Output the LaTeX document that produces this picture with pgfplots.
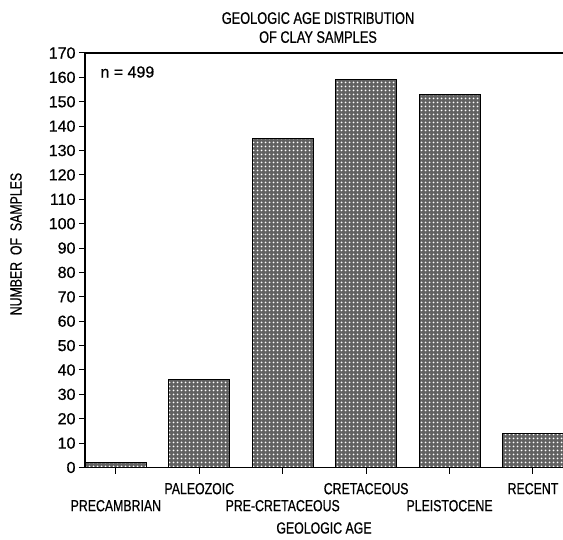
\documentclass[border=0pt]{standalone}
\usepackage{fontspec}
\setmainfont{Liberation Sans}[FakeBold=0.6]
\newfontfamily\narrow{Liberation Sans}[FakeStretch=0.77, FakeBold=0.6]
\usepackage{pgfplots}
\pgfplotsset{compat=1.18}
\usetikzlibrary{patterns}

\newcommand{\txt}{\fontsize{16bp}{19bp}\selectfont}
\newcommand{\ttl}{\fontsize{16.6bp}{19bp}\selectfont}

% white dots on a dark fill, as in the printed bars
\pgfdeclarepatternformonly{bardots}{\pgfqpoint{0bp}{0bp}}{\pgfqpoint{4bp}{4bp}}{\pgfqpoint{4bp}{4bp}}{
    \pgfpathcircle{\pgfqpoint{2bp}{2bp}}{1.2bp}
    \pgfusepath{fill}}

\begin{document}
\begin{tikzpicture}
\begin{axis}[
    name=ax,
    scale only axis,
    width=478bp, height=414.5bp,
    xmin=-0.37, xmax=5.36,
    ymin=0, ymax=170,
    axis x line*=bottom, axis y line*=left,
    axis line style={-, line width=1.2bp},
    ytick={0,10,...,170},
    xtick={1,3,5},
    xticklabels={PALEOZOIC,CRETACEOUS,RECENT},
    extra x ticks={0,2,4},
    extra x tick labels={PRECAMBRIAN,PRE-CRETACEOUS,PLEISTOCENE},
    extra x tick style={xticklabel style={yshift=-17bp}},
    tick align=outside,
    major tick length=6bp,
    tick style={black, line width=1bp},
    xticklabel style={font=\narrow\txt, yshift=-6bp},
    yticklabel style={font=\txt},
    /pgf/number format/assume math mode=true,
    every axis title/.style={at={(0.5,1)}, anchor=south, xshift=-6bp, yshift=6.5bp,
        font=\narrow\ttl, align=center},
    title={GEOLOGIC AGE DISTRIBUTION\\OF CLAY SAMPLES},
    every axis x label/.style={at={(rel axis cs:0.5,0)}, anchor=center, yshift=-60.5bp,
        font=\narrow\txt},
    xlabel={GEOLOGIC AGE},
    every axis y label/.style={at={(rel axis cs:0,0.539)}, xshift=-69bp, rotate=90,
        anchor=center, font=\narrow\txt},
    ylabel={NUMBER \ OF \ SAMPLES},
    ybar,
    bar width=0.73,
]
\addplot[draw=black, line width=0.9bp, fill=black!62,
    postaction={pattern=bardots, pattern color=white}]
    coordinates {(0,2) (1,36) (2,135) (3,159) (4,153) (5,14)};
\node[anchor=west, font=\txt] at (rel axis cs:0.025,1) [yshift=-19bp] {n = 499};
\end{axis}
\draw[line width=1.2bp] (ax.north west) -- (ax.north east);
\pgfresetboundingbox
\path ([shift={(-85bp,-72.5bp)}]ax.south west) rectangle ([yshift=53bp]ax.north east);
\end{tikzpicture}
\end{document}
